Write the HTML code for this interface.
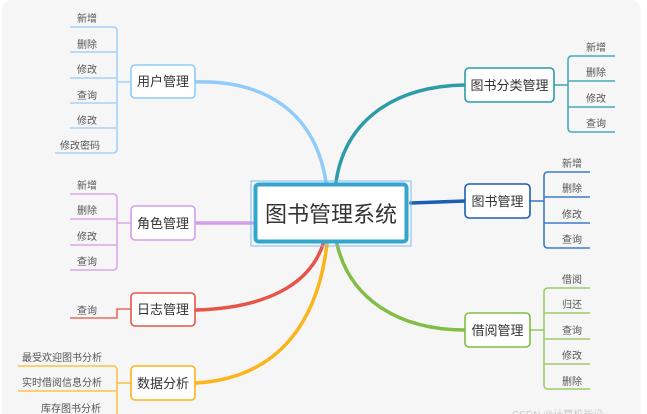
<!DOCTYPE html>
<html><head><meta charset="utf-8"><style>
html,body{margin:0;padding:0;background:#fff;}
svg{display:block;}
text{font-family:"Liberation Sans","Noto Sans CJK SC",sans-serif;}
.lf{font-size:10px;fill:#555;text-anchor:middle;}
.nd{font-size:13px;fill:#333;text-anchor:middle;}
</style></head><body>
<svg width="647" height="414" viewBox="0 0 647 414" xmlns="http://www.w3.org/2000/svg">
<rect x="2" y="0" width="639" height="430" rx="10" fill="#f6f6f7"/>

<!-- main curves -->
<g fill="none" stroke-width="3.5" stroke-linecap="round">
<path d="M195,82 C265,80 315,112 326,182" stroke="#90cbf9"/>
<path d="M465,85 C395,86 345,120 336,182" stroke="#2c9ca8"/>
<path d="M411,203 L465,201" stroke="#1a5fb4"/>
<path d="M195,223 L252,223" stroke="#d49ee8"/>
<path d="M337,244 C350,300 400,330 465,330" stroke="#82bd45"/>
<path d="M196,310 C265,308 310,285 323,244" stroke="#e65548"/>
<path d="M196,383 C280,378 318,320 327,244" stroke="#fbb419"/>
</g>

<!-- leaf brackets -->
<g fill="none" stroke-width="1.6">
<!-- user -->
<g stroke="#a6d2f8">
<path d="M195,82 H117"/>
<path d="M70,27 H113 Q117,27 117,31 V149 Q117,153 113,153 H55"/>
<path d="M70,52 H117 M70,78 H117 M70,103 H117 M70,128 H117"/>
</g>
<!-- role -->
<g stroke="#d8a8ec">
<path d="M195,223 H117"/>
<path d="M70,194 H113 Q117,194 117,198 V266 Q117,270 113,270 H70"/>
<path d="M70,219 H117 M70,245 H117"/>
</g>
<!-- log -->
<g stroke="#ec6d62">
<path d="M131,309 H117 V318 H70"/>
</g>
<!-- data -->
<g stroke="#fbc24a">
<path d="M131,383 H117"/>
<path d="M18,366 H113 Q117,366 117,370 V420"/>
<path d="M18,391 H117"/>
</g>
<!-- category -->
<g stroke="#4aaab5">
<path d="M554,85 H568"/>
<path d="M615,56 H572 Q568,56 568,60 V128 Q568,132 572,132 H615"/>
<path d="M568,81 H615 M568,107 H615"/>
</g>
<!-- book -->
<g stroke="#3f7cc6">
<path d="M530,201 H544"/>
<path d="M590,172 H548 Q544,172 544,176 V244 Q544,248 548,248 H590"/>
<path d="M544,197 H590 M544,223 H590"/>
</g>
<!-- borrow -->
<g stroke="#9ccb6c">
<path d="M530,330 H544"/>
<path d="M590,288 H548 Q544,288 544,292 V385 Q544,389 548,389 H590"/>
<path d="M544,313 H590 M544,339 H590 M544,364 H590"/>
</g>
</g>

<!-- nodes -->
<g stroke-width="1.6" fill="#fff">
<rect x="131" y="65" width="64" height="33" rx="4" stroke="#90cbf9"/>
<rect x="131" y="206" width="64" height="34" rx="4" stroke="#d49ee8"/>
<rect x="131" y="293" width="64" height="33" rx="4" stroke="#e65548"/>
<rect x="131" y="366" width="64" height="34" rx="4" stroke="#fbb419"/>
<rect x="465" y="68" width="89" height="34" rx="4" stroke="#2c9ca8"/>
<rect x="465" y="184" width="65" height="34" rx="4" stroke="#1a5fb4"/>
<rect x="465" y="313" width="65" height="34" rx="4" stroke="#82bd45"/>
</g>
<text class="nd" x="163" y="86">用户管理</text>
<text class="nd" x="163" y="228">角色管理</text>
<text class="nd" x="163" y="314">日志管理</text>
<text class="nd" x="163" y="388">数据分析</text>
<text class="nd" x="509.5" y="90">图书分类管理</text>
<text class="nd" x="497.5" y="206">图书管理</text>
<text class="nd" x="497.5" y="335">借阅管理</text>

<!-- center -->
<rect x="251" y="181" width="160" height="65" fill="none" stroke="#7db8f5" stroke-width="1"/>
<rect x="255.5" y="184.5" width="151" height="57" rx="3" fill="#fff" stroke="#33a6cd" stroke-width="4"/>
<text x="331" y="222" font-size="22" fill="#333" text-anchor="middle">图书管理系统</text>

<!-- leaf labels -->
<text class="lf" x="87" y="22">新增</text>
<text class="lf" x="87" y="48">删除</text>
<text class="lf" x="87" y="73">修改</text>
<text class="lf" x="87" y="99">查询</text>
<text class="lf" x="87" y="124">修改</text>
<text class="lf" x="80" y="149">修改密码</text>

<text class="lf" x="87" y="189">新增</text>
<text class="lf" x="87" y="214">删除</text>
<text class="lf" x="87" y="240">修改</text>
<text class="lf" x="87" y="265">查询</text>

<text class="lf" x="87" y="314">查询</text>

<text class="lf" x="62" y="361">最受欢迎图书分析</text>
<text class="lf" x="62" y="386">实时借阅信息分析</text>
<text class="lf" x="71" y="412">库存图书分析</text>

<text class="lf" x="596" y="51">新增</text>
<text class="lf" x="596" y="76">删除</text>
<text class="lf" x="596" y="102">修改</text>
<text class="lf" x="596" y="127">查询</text>

<text class="lf" x="572" y="167">新增</text>
<text class="lf" x="572" y="192">删除</text>
<text class="lf" x="572" y="218">修改</text>
<text class="lf" x="572" y="243">查询</text>

<text class="lf" x="572" y="283">借阅</text>
<text class="lf" x="572" y="308">归还</text>
<text class="lf" x="572" y="334">查询</text>
<text class="lf" x="572" y="359">修改</text>
<text class="lf" x="572" y="385">删除</text>

<text x="512" y="418" font-size="10" fill="#ccc">CSDN @计算机毕设</text>
</svg>
</body></html>
